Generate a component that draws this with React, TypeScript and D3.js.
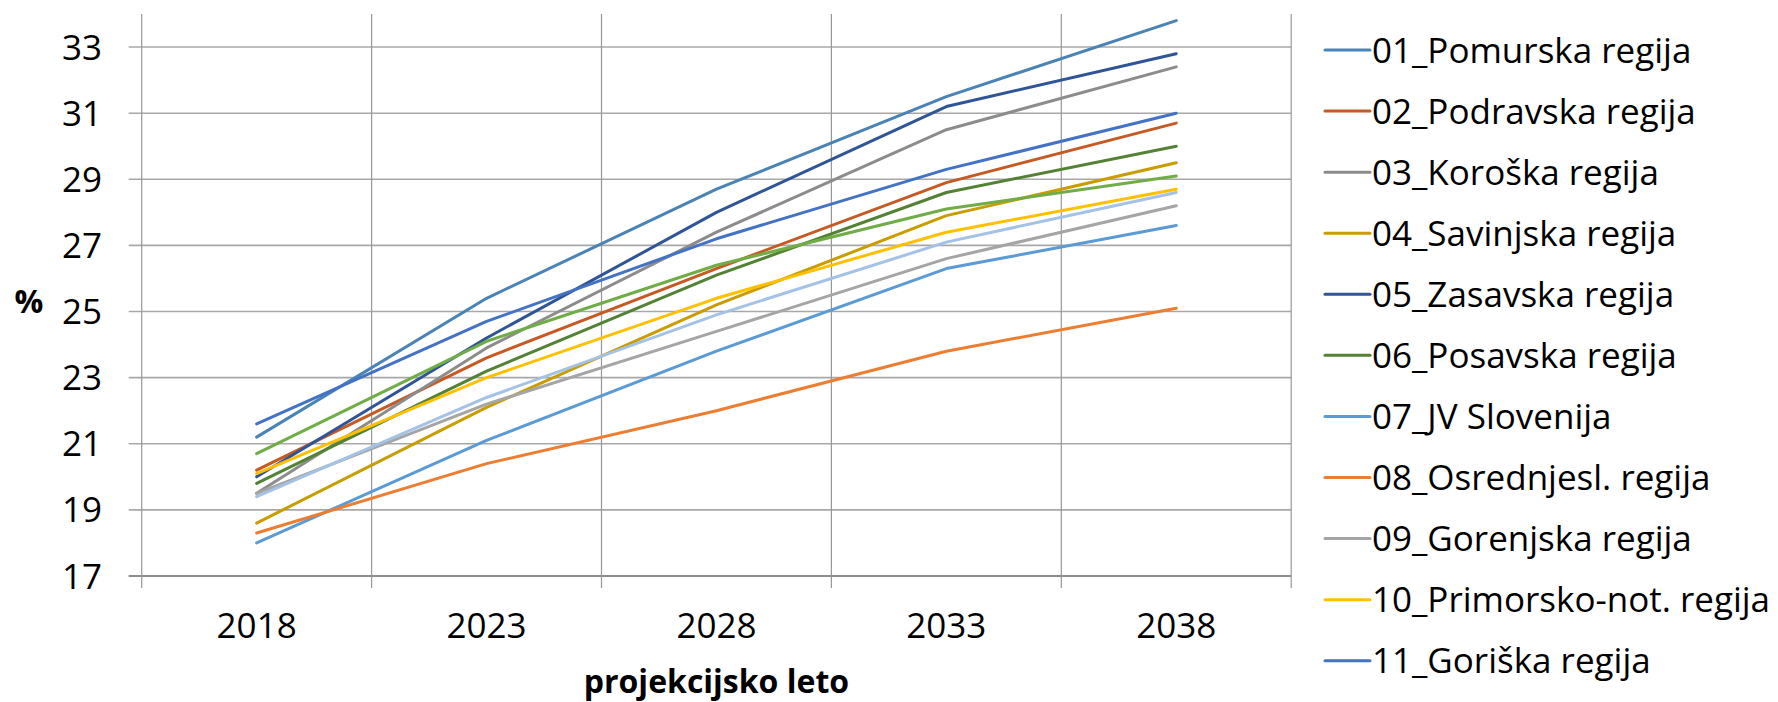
import React from "react";
import * as d3 from "d3";

// ---- data (share of population aged 65+, %) ----
const years: number[] = [2018, 2023, 2028, 2033, 2038];

const seriesNames: string[] = [
  "01_Pomurska regija",
  "02_Podravska regija",
  "03_Koroška regija",
  "04_Savinjska regija",
  "05_Zasavska regija",
  "06_Posavska regija",
  "07_JV Slovenija",
  "08_Osrednjesl. regija",
  "09_Gorenjska regija",
  "10_Primorsko-not. regija",
  "11_Goriška regija",
  "12_Obalno-kraška regija",
  "SLOVENIJA",
];

const pomurska: number[] = [21.2, 25.4, 28.7, 31.5, 33.8];
const podravska: number[] = [20.2, 23.6, 26.3, 28.9, 30.7];
const koroska: number[] = [19.5, 23.9, 27.4, 30.5, 32.4];
const savinjska: number[] = [18.6, 22.1, 25.2, 27.9, 29.5];
const zasavska: number[] = [20.0, 24.2, 28.0, 31.2, 32.8];
const posavska: number[] = [19.8, 23.2, 26.1, 28.6, 30.0];
const jvSlovenija: number[] = [18.0, 21.1, 23.8, 26.3, 27.6];
const osrednjeslovenska: number[] = [18.3, 20.4, 22.0, 23.8, 25.1];
const gorenjska: number[] = [19.5, 22.2, 24.4, 26.6, 28.2];
const primorskoNotranjska: number[] = [20.1, 23.0, 25.4, 27.4, 28.7];
const goriska: number[] = [21.6, 24.7, 27.2, 29.3, 31.0];
const obalnoKraska: number[] = [20.7, 24.1, 26.4, 28.1, 29.1];
const slovenija: number[] = [19.4, 22.4, 24.9, 27.1, 28.6];

const seriesValues: number[][] = [
  pomurska, podravska, koroska, savinjska, zasavska, posavska,
  jvSlovenija, osrednjeslovenska, gorenjska, primorskoNotranjska,
  goriska, obalnoKraska, slovenija,
];

const seriesColors: string[] = [
  "#4a83b6", "#c55a24", "#8c8c8c", "#c99d00", "#2f5597", "#548235",
  "#5b9bd5", "#ed7d31", "#a5a5a5", "#ffc000", "#4472c4", "#70ad47", "#a4c2e6",
];

const yTicks: number[] = [17, 19, 21, 23, 25, 27, 29, 31, 33];
const legendCount = 11; // the original legend is clipped after 11 entries

const xTitle = "projekcijsko leto";
const yTitle = "%";

// ---- layout ----
const W = 1778;
const H = 702;
const plot = { left: 141.7, right: 1291.2, top: 14, bottom: 576 };
const FONT = "'Open Sans', sans-serif";

export default function App() {
  const x = d3
    .scaleBand<number>()
    .domain(years)
    .range([plot.left, plot.right])
    .paddingInner(0)
    .paddingOuter(0);
  const y = d3.scaleLinear().domain([17, 34]).range([plot.bottom, plot.top]);
  const cx = (yr: number) => (x(yr) as number) + x.bandwidth() / 2;

  const line = d3
    .line<number>()
    .x((_, i) => cx(years[i]))
    .y((v) => y(v));

  const boundaries = [...years.map((yr) => x(yr) as number), plot.right];

  const legendX = 1325;
  const legendY0 = 50;
  const legendStep = 61.07;

  return (
    <svg
      width={W}
      height={H}
      style={{ position: "absolute", left: 0, top: 0, background: "#fff" }}
      fontFamily={FONT}
    >
      <rect x={0} y={0} width={W} height={H} fill="#fff" />
      {/* horizontal gridlines + y ticks */}
      {yTicks.map((t) => (
        <line
          key={"h" + t}
          x1={plot.left - 13}
          x2={plot.right}
          y1={y(t)}
          y2={y(t)}
          stroke={t === 17 ? "#8c8c8c" : "#a8a8a8"}
          strokeWidth={t === 17 ? 2 : 1.6}
        />
      ))}
      {/* vertical gridlines / category boundaries */}
      {boundaries.map((bx, i) => (
        <line
          key={"v" + i}
          x1={bx}
          x2={bx}
          y1={plot.top}
          y2={plot.bottom + 12}
          stroke="#979797"
          strokeWidth={1.2}
        />
      ))}
      {/* y tick labels */}
      {yTicks.map((t) => (
        <text
          key={"yl" + t}
          x={102}
          y={y(t)}
          dy="0.36em"
          textAnchor="end"
          fontSize={35}
          fill="#000"
        >
          {t}
        </text>
      ))}
      {/* x tick labels */}
      {years.map((yr) => (
        <text
          key={"xl" + yr}
          x={cx(yr)}
          y={638}
          textAnchor="middle"
          fontSize={35}
          fill="#000"
        >
          {yr}
        </text>
      ))}
      {/* axis titles */}
      <text
        x={(plot.left + plot.right) / 2}
        y={693}
        textAnchor="middle"
        fontSize={32}
        fontWeight="bold"
        fill="#000"
      >
        {xTitle}
      </text>
      <text x={29} y={313} textAnchor="middle" fontSize={32} fontWeight="bold" fill="#000">
        {yTitle}
      </text>
      {/* series */}
      {seriesValues.map((vals, i) => (
        <path
          key={"s" + i}
          d={line(vals) || ""}
          fill="none"
          stroke={seriesColors[i]}
          strokeWidth={3}
          strokeLinejoin="round"
          strokeLinecap="round"
        />
      ))}
      {/* legend */}
      {seriesNames.slice(0, legendCount).map((name, i) => {
        const ly = legendY0 + i * legendStep;
        return (
          <g key={"lg" + i}>
            <line
              x1={legendX}
              x2={legendX + 45}
              y1={ly}
              y2={ly}
              stroke={seriesColors[i]}
              strokeWidth={3}
              strokeLinecap="round"
            />
            <text x={legendX + 47} y={ly} dy="0.36em" fontSize={35} fill="#000">
              {name}
            </text>
          </g>
        );
      })}
    </svg>
  );
}
